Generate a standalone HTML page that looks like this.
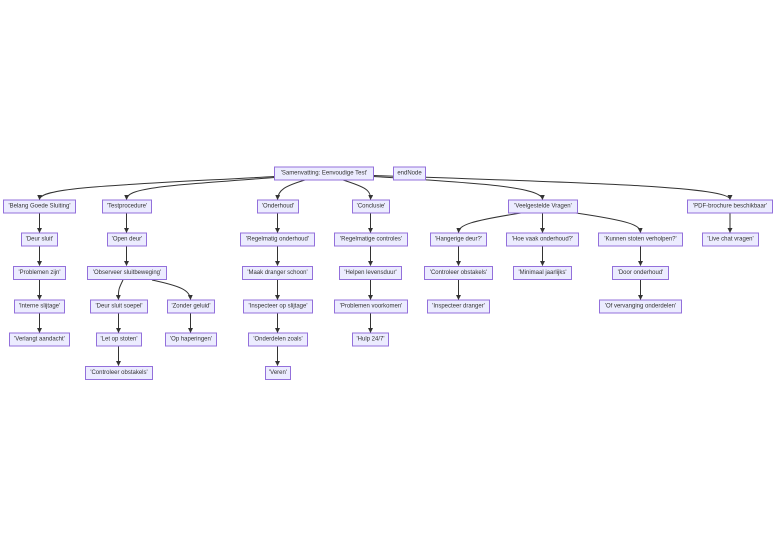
<!DOCTYPE html>
<html><head><meta charset="utf-8"><style>
html,body{margin:0;padding:0;background:#fff;width:784px;height:547px;overflow:hidden}
svg{display:block}
rect{fill:#ECECFF;stroke:#9370DB;stroke-width:1}
text{font-family:"Liberation Sans",sans-serif;font-size:6px;fill:#333;text-anchor:middle;dominant-baseline:central}
path{fill:none;stroke:#333;stroke-width:1}
</style></head><body>
<svg width="784" height="547" viewBox="0 0 784 547" xmlns="http://www.w3.org/2000/svg">
<defs><marker id="a" viewBox="0 0 10 10" refX="9" refY="5" markerWidth="5" markerHeight="5" orient="auto"><path d="M0,0L10,5L0,10z" style="fill:#333;stroke:none"/></marker></defs>
<g marker-end="url(#a)">
<path d="M275,176.5 C120,185 40,187 39.5,199.5"/>
<path d="M275,177.5 C160,186 127,188 126.5,199.5"/>
<path d="M305,180 C285,186 278,190 277.5,199.5"/>
<path d="M343,180 C365,187 371,190 370.5,199.5"/>
<path d="M373,176.5 C480,183 542,187 542.5,199.5"/>
<path d="M373,175.5 C600,183 730,187 730,199.5"/>
<path d="M123,280 C119,288 118,290 118.5,299.5"/>
<path d="M152,280 C180,286 190,290 190.5,299.5"/>
<path d="M521,213 C470,221 459,225 458.5,232.5"/>
<path d="M576,213 C630,221 640,225 640.5,232.5"/>
<path d="M39.5,213V232.5"/><path d="M39.5,246V265.5"/><path d="M39.5,280V299.5"/><path d="M39.5,313V332.5"/>
<path d="M126.5,213V232.5"/><path d="M126.5,246V265.5"/>
<path d="M118.5,313V332.5"/><path d="M118.5,346V365.5"/>
<path d="M190.5,313V332.5"/>
<path d="M277.5,213V232.5"/><path d="M277.5,246V265.5"/><path d="M277.5,280V299.5"/><path d="M277.5,313V332.5"/><path d="M277.5,346V365.5"/>
<path d="M370.5,213V232.5"/><path d="M370.5,246V265.5"/><path d="M370.5,280V299.5"/><path d="M370.5,313V332.5"/>
<path d="M542.5,213V232.5"/><path d="M542.5,246V265.5"/>
<path d="M458.5,246V265.5"/><path d="M458.5,280V299.5"/>
<path d="M640.5,246V265.5"/><path d="M640.5,280V299.5"/>
<path d="M730,213V232.5"/>
</g>
<g>
<rect x="274.5" y="167" width="99" height="13"/><text x="324" y="173.5">'Samenvatting: Eenvoudige Test'</text>
<rect x="393.5" y="167" width="32" height="13"/><text x="409.5" y="173.5">endNode</text>

<rect x="3.5" y="200" width="72" height="13"/><text x="39.5" y="206.5">'Belang Goede Sluiting'</text>
<rect x="102.5" y="200" width="49" height="13"/><text x="127" y="206.5">'Testprocedure'</text>
<rect x="257.5" y="200" width="41" height="13"/><text x="278" y="206.5">'Onderhoud'</text>
<rect x="352.5" y="200" width="37" height="13"/><text x="371" y="206.5">'Conclusie'</text>
<rect x="508.5" y="200" width="69" height="13"/><text x="543" y="206.5">'Veelgestelde Vragen'</text>
<rect x="687.5" y="200" width="85" height="13"/><text x="730" y="206.5">'PDF-brochure beschikbaar'</text>

<rect x="21.5" y="233" width="36" height="13"/><text x="39.5" y="239.5">'Deur sluit'</text>
<rect x="107.5" y="233" width="39" height="13"/><text x="127" y="239.5">'Open deur'</text>
<rect x="240.5" y="233" width="74" height="13"/><text x="277.5" y="239.5">'Regelmatig onderhoud'</text>
<rect x="334.5" y="233" width="73" height="13"/><text x="371" y="239.5">'Regelmatige controles'</text>
<rect x="430.5" y="233" width="56" height="13"/><text x="458.5" y="239.5">'Hangerige deur?'</text>
<rect x="506.5" y="233" width="72" height="13"/><text x="542.5" y="239.5">'Hoe vaak onderhoud?'</text>
<rect x="598.5" y="233" width="84" height="13"/><text x="640.5" y="239.5">'Kunnen stoten verholpen?'</text>
<rect x="702.5" y="233" width="56" height="13"/><text x="730.5" y="239.5">'Live chat vragen'</text>

<rect x="13.5" y="266.5" width="52" height="13"/><text x="39.5" y="273">'Problemen zijn'</text>
<rect x="87.5" y="266.5" width="79" height="13"/><text x="127" y="273">'Observeer sluitbeweging'</text>
<rect x="242.5" y="266.5" width="70" height="13"/><text x="277.5" y="273">'Maak dranger schoon'</text>
<rect x="339.5" y="266.5" width="62" height="13"/><text x="370.5" y="273">'Helpen levensduur'</text>
<rect x="424.5" y="266.5" width="68" height="13"/><text x="458.5" y="273">'Controleer obstakels'</text>
<rect x="513.5" y="266.5" width="58" height="13"/><text x="542.5" y="273">'Minimaal jaarlijks'</text>
<rect x="612.5" y="266.5" width="56" height="13"/><text x="640.5" y="273">'Door onderhoud'</text>

<rect x="14.5" y="300" width="50" height="13"/><text x="39.5" y="306.5">'Interne slijtage'</text>
<rect x="90.5" y="300" width="57" height="13"/><text x="119" y="306.5">'Deur sluit soepel'</text>
<rect x="167.5" y="300" width="47" height="13"/><text x="191" y="306.5">'Zonder geluid'</text>
<rect x="243.5" y="300" width="69" height="13"/><text x="278" y="306.5">'Inspecteer op slijtage'</text>
<rect x="334.5" y="300" width="73" height="13"/><text x="371" y="306.5">'Problemen voorkomen'</text>
<rect x="427.5" y="300" width="62" height="13"/><text x="458.5" y="306.5">'Inspecteer dranger'</text>
<rect x="599.5" y="300" width="82" height="13"/><text x="640.5" y="306.5">'Of vervanging onderdelen'</text>

<rect x="9.5" y="333" width="60" height="13"/><text x="39.5" y="339.5">'Verlangt aandacht'</text>
<rect x="96.5" y="333" width="45" height="13"/><text x="119" y="339.5">'Let op stoten'</text>
<rect x="165.5" y="333" width="51" height="13"/><text x="191" y="339.5">'Op haperingen'</text>
<rect x="248.5" y="333" width="59" height="13"/><text x="278" y="339.5">'Onderdelen zoals'</text>
<rect x="352.5" y="333" width="36" height="13"/><text x="370.5" y="339.5">'Hulp 24/7'</text>

<rect x="85.5" y="366.5" width="67" height="13"/><text x="119" y="373">'Controleer obstakels'</text>
<rect x="265.5" y="366.5" width="25" height="13"/><text x="278" y="373">'Veren'</text>
</g>
</svg>
</body></html>
